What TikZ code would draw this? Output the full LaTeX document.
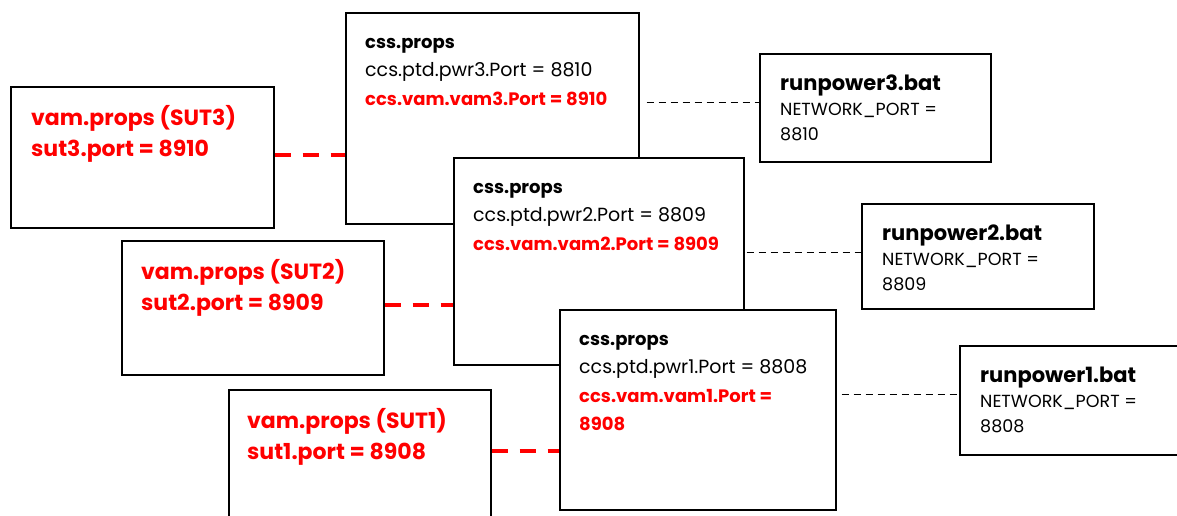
\documentclass[tikz,border=0pt]{standalone}
\usepackage{fontspec}
\setmainfont{Poppins}

\tikzset{
  propbox/.style={draw, line width=1.6pt, fill=white, anchor=north west, inner sep=0pt},
  boxtext/.style={anchor=north west, align=left, inner sep=0pt},
  suitlink/.style={draw=red, line width=4.5pt, dash pattern=on 16pt off 12pt},
  portlink/.style={line width=1.3pt, dash pattern=on 7pt off 5pt},
}
\newcommand{\cssfont}{\fontsize{19}{28.5}\selectfont}
\newcommand{\cssbold}{\fontsize{18}{28.5}\selectfont\bfseries}
\newcommand{\vamfont}{\fontsize{22}{31}\selectfont\bfseries\color{red}}
\newcommand{\runfont}{\fontsize{17.5}{25}\selectfont}
\newcommand{\runbold}{\fontsize{21}{25}\selectfont\bfseries}

\begin{document}
\begin{tikzpicture}[x=1pt, y=-1pt]
\useasboundingbox (0,0) rectangle (1177,515);

% css.props boxes (drawn back to front)
\node[propbox, minimum width=293pt, minimum height=211pt] (css3) at (345,12) {};
\node[boxtext, font=\cssfont] (css3txt) at ([xshift=20pt, yshift=-16pt]css3.north west)
  {\strut{\cssbold css.props}\\ccs.ptd.pwr3.Port = 8810\\{\cssbold\color{red}ccs.vam.vam3.Port = 8910}};

\node[propbox, minimum width=290pt, minimum height=207pt] (css2) at (453,157) {};
\node[boxtext, font=\cssfont] (css2txt) at ([xshift=20pt, yshift=-16pt]css2.north west)
  {\strut{\cssbold css.props}\\ccs.ptd.pwr2.Port = 8809\\{\cssbold\color{red}ccs.vam.vam2.Port = 8909}};

\node[propbox, minimum width=276pt, minimum height=200pt] (css1) at (559,309) {};
\node[boxtext, font=\cssfont] (css1txt) at ([xshift=20pt, yshift=-16pt]css1.north west)
  {\strut{\cssbold css.props}\\ccs.ptd.pwr1.Port = 8808\\{\cssbold\color{red}ccs.vam.vam1.Port =}\\{\cssbold\color{red}8908}};

% vam.props boxes
\node[propbox, minimum width=263pt, minimum height=141pt] (vam3) at (10,86) {};
\node[boxtext, font=\vamfont] (vam3txt) at ([xshift=21pt, yshift=-18pt]vam3.north west)
  {\strut vam.props (SUT3)\\sut3.port = 8910};

\node[propbox, minimum width=262pt, minimum height=134pt] (vam2) at (121,240) {};
\node[boxtext, font=\vamfont] (vam2txt) at ([xshift=20pt, yshift=-18pt]vam2.north west)
  {\strut vam.props (SUT2)\\sut2.port = 8909};

\node[propbox, minimum width=262pt, minimum height=141pt] (vam1) at (228,389) {};
\node[boxtext, font=\vamfont] (vam1txt) at ([xshift=19pt, yshift=-18pt]vam1.north west)
  {\strut vam.props (SUT1)\\sut1.port = 8908};

% runpower batch files
\node[propbox, minimum width=231pt, minimum height=108pt] (run3) at (759,53) {};
\node[boxtext, font=\runfont] (run3txt) at ([xshift=21pt, yshift=-19.5pt]run3.north west)
  {\strut{\runbold runpower3.bat}\\NETWORK\_PORT =\\8810};

\node[propbox, minimum width=232pt, minimum height=105pt] (run2) at (861,203) {};
\node[boxtext, font=\runfont] (run2txt) at ([xshift=21pt, yshift=-19.5pt]run2.north west)
  {\strut{\runbold runpower2.bat}\\NETWORK\_PORT =\\8809};

\node[propbox, minimum width=240pt, minimum height=109pt] (run1) at (959,345) {};
\node[boxtext, font=\runfont] (run1txt) at ([xshift=21pt, yshift=-19.5pt]run1.north west)
  {\strut{\runbold runpower1.bat}\\NETWORK\_PORT =\\8808};

% SUT links (red)
\coordinate (s3) at ([yshift=2.5pt]vam3.east);
\coordinate (s2) at ([yshift=3pt]vam2.east);
\coordinate (s1) at ([yshift=9.5pt]vam1.east);
\draw[suitlink] (s3) -- (s3 -| css3.west);
\draw[suitlink] (s2) -- (s2 -| css2.west);
\draw[suitlink] (s1) -- (s1 -| css1.west);

% port links (black)
\coordinate (p3) at ([yshift=5pt]run3.west);
\coordinate (p2) at ([yshift=3.5pt]run2.west);
\coordinate (p1) at ([yshift=5.5pt]run1.west);
\draw[portlink, shorten <=7pt] (p3 -| css3.east) -- (p3);
\draw[portlink, shorten <=2pt] (p2 -| css2.east) -- (p2);
\draw[portlink, shorten <=5pt] (p1 -| css1.east) -- (p1);
\end{tikzpicture}
\end{document}
